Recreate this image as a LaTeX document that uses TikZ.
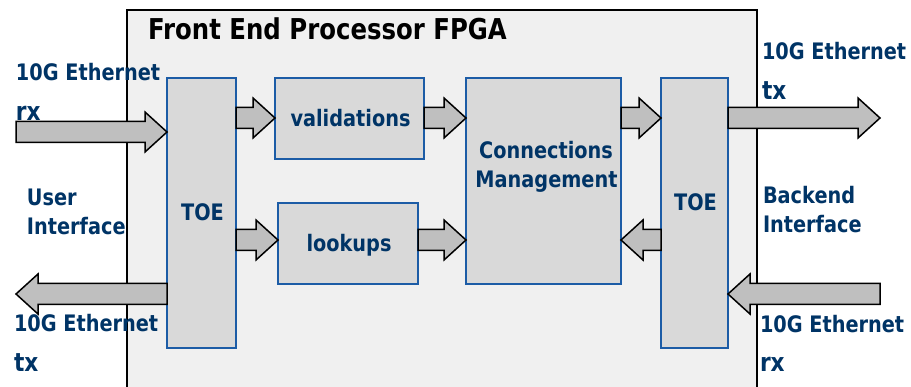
\documentclass[tikz,border=0pt]{standalone}
\usepackage{fontspec}
\usetikzlibrary{calc}
\newfontfamily\lblfont[FakeStretch=0.85]{DejaVu Sans}
\definecolor{txtblue}{RGB}{0,52,102}
\definecolor{boxblue}{RGB}{28,92,166}
\definecolor{boxfill}{RGB}{217,217,217}
\definecolor{outerfill}{RGB}{240,240,240}
\definecolor{arrowfill}{RGB}{191,191,191}
\tikzset{
  outerbox/.style={draw=black, line width=1.5pt, fill=outerfill},
  blockbox/.style={draw=boxblue, line width=1.3pt, fill=boxfill, rectangle, inner sep=0pt, outer sep=0pt, anchor=north west},
  lbl/.style={inner sep=0pt, outer sep=0pt, text=txtblue, font=\lblfont\bfseries\fontsize{22.7}{27}\selectfont},
  biglbl/.style={lbl, font=\lblfont\bfseries\fontsize{25.5}{30}\selectfont},
  titlelbl/.style={inner sep=0pt, outer sep=0pt, text=black, font=\lblfont\bfseries\fontsize{28.7}{34}\selectfont},
  blockarrow/.style={draw=black, line width=1.5pt, fill=arrowfill, line join=miter},
}
% horizontal block arrow from #1 to tip #2
\newcommand\barrow[2]{%
  \draw[blockarrow] let \p1=(#1), \p2=(#2), \n1={sign(\x2-\x1)} in
    (\x1,\y1+10.5pt) -- (\x2-\n1*22pt,\y1+10.5pt) -- (\x2-\n1*22pt,\y1+20pt) -- (\x2,\y1)
    -- (\x2-\n1*22pt,\y1-20pt) -- (\x2-\n1*22pt,\y1-10.5pt) -- (\x1,\y1-10.5pt) -- cycle;
}
\begin{document}
\begin{tikzpicture}[x=1pt,y=-1pt]
\useasboundingbox (0,0) rectangle (911,387);
\clip (0,0) rectangle (911,387);
\fill[white] (0,0) rectangle (911,387);
% outer FPGA box
\draw[outerbox] (127,10) rectangle (757,400);
\node[titlelbl, anchor=base west] (title) at (148,40) {Front End Processor FPGA};
% blocks
\node[blockbox, minimum width=69pt, minimum height=270pt] (toeL) at (167,78) {};
\node[blockbox, minimum width=149pt, minimum height=81pt] (val) at (275,78) {};
\node[blockbox, minimum width=140pt, minimum height=81pt] (look) at (278,203) {};
\node[blockbox, minimum width=155pt, minimum height=206pt] (cm) at (466,78) {};
\node[blockbox, minimum width=67pt, minimum height=270pt] (toeR) at (661,78) {};
% block labels
\node[lbl, anchor=base] (toeLt) at (202.5,221) {TOE};
\node[lbl, anchor=base] (toeRt) at (695.5,211) {TOE};
\node[lbl, anchor=base] (valt) at (350.5,127) {validations};
\node[lbl, anchor=base] (lookt) at (349,252) {lookups};
\node[lbl, anchor=base] (cmt1) at (546,159) {Connections};
\node[lbl, anchor=base] (cmt2) at (546.5,188) {Management};
% free ends / rows
\coordinate (rxL) at (16,132);
\coordinate (txL) at (16,294);
\coordinate (txR) at (880,118);
\coordinate (rxR) at (880,294);
\coordinate (rowA) at (0,118);
\coordinate (rowB) at (0,240);
% arrows
\barrow{rxL}{toeL.west |- rxL}
\barrow{toeL.west |- txL}{txL}
\barrow{toeL.east |- rowA}{val.west |- rowA}
\barrow{toeL.east |- rowB}{look.west |- rowB}
\barrow{val.east |- rowA}{cm.west |- rowA}
\barrow{look.east |- rowB}{cm.west |- rowB}
\barrow{cm.east |- rowA}{toeR.west |- rowA}
\barrow{toeR.west |- rowB}{cm.east |- rowB}
\barrow{toeR.east |- txR}{txR}
\barrow{rxR}{toeR.east |- rxR}
% outside labels
\node[lbl, anchor=base west] (l1) at (16,81) {10G Ethernet};
\node[biglbl, anchor=base west] (l2) at (16,121) {rx};
\node[lbl, anchor=base west] (l3) at (27,206) {User};
\node[lbl, anchor=base west] (l4) at (27,235) {Interface};
\node[lbl, anchor=base west] (l5) at (14,332) {10G Ethernet};
\node[biglbl, anchor=base west] (l6) at (14,372) {tx};
\node[lbl, anchor=base west] (r1) at (762,60) {10G Ethernet};
\node[biglbl, anchor=base west] (r2) at (762,100) {tx};
\node[lbl, anchor=base west] (r3) at (763,204) {Backend};
\node[lbl, anchor=base west] (r4) at (763,233) {Interface};
\node[lbl, anchor=base west] (r5) at (760,333) {10G Ethernet};
\node[biglbl, anchor=base west] (r6) at (760,372) {rx};
\end{tikzpicture}
\end{document}
